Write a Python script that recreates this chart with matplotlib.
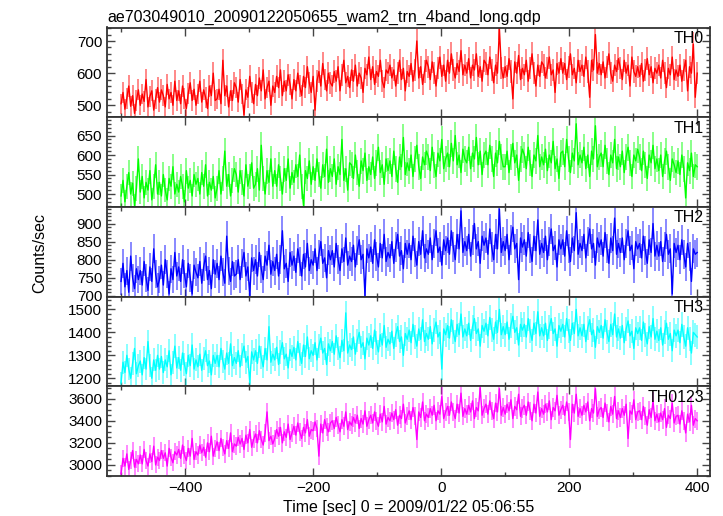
import numpy as np
import matplotlib
matplotlib.use("Agg")
import matplotlib.pyplot as plt
from matplotlib.ticker import MultipleLocator

plt.rcParams['font.family'] = ['Liberation Sans', 'DejaVu Sans']

# time bins (sec, relative to 2009/01/22 05:06:55), 3 s bins
time = np.arange(-500, 401, 3)

th0 = [505, 540, 488, 522, 560, 497, 530, 475, 515, 548,
       500, 535, 512, 580, 495, 528, 545, 485, 520, 555,
       510, 548, 530, 495, 565, 520, 540, 500, 575, 515,
       545, 505, 560, 522, 490, 538, 570, 515, 550, 500,
       535, 575, 510, 548, 525, 490, 560, 530, 600, 515,
       520, 550, 505, 640, 530, 560, 495, 545, 515, 570,
       555, 510, 580, 535, 470, 548, 525, 590, 540, 505,
       565, 530, 585, 545, 610, 520, 555, 575, 500, 560,
       540, 590, 555, 610, 530, 575, 545, 595, 565, 520,
       580, 545, 600, 560, 530, 590, 555, 620, 570, 540,
       590, 485, 575, 605, 560, 630, 580, 545, 600, 570,
       560, 605, 575, 620, 545, 595, 640, 570, 590, 555,
       610, 575, 625, 560, 600, 585, 540, 615, 595, 650,
       580, 620, 565, 605, 590, 640, 575, 555, 610, 600,
       625, 585, 610, 560, 600, 640, 580, 615, 545, 605,
       590, 630, 575, 610, 700, 585, 620, 565, 605, 640,
       620, 580, 635, 600, 560, 615, 650, 590, 625, 575,
       640, 600, 660, 610, 585, 630, 605, 670, 595, 625,
       600, 645, 585, 625, 610, 660, 590, 620, 575, 640,
       630, 595, 650, 610, 570, 625, 600, 740, 615, 585,
       620, 590, 645, 605, 520, 635, 600, 655, 580, 615,
       595, 640, 575, 615, 660, 600, 560, 625, 590, 635,
       625, 585, 615, 650, 595, 610, 540, 630, 600, 645,
       600, 630, 580, 620, 660, 595, 615, 570, 640, 605,
       625, 590, 650, 605, 525, 640, 610, 720, 600, 630,
       595, 635, 585, 620, 660, 600, 575, 625, 605, 645,
       615, 580, 640, 600, 625, 560, 650, 605, 590, 620,
       590, 630, 575, 610, 645, 595, 620, 570, 615, 600,
       625, 585, 640, 600, 555, 615, 595, 650, 580, 610,
       590, 625, 575, 610, 640, 545, 620, 600, 690, 525,
       600]

th1 = [495, 535, 480, 520, 555, 500, 528, 470, 515, 590,
       505, 545, 490, 530, 510, 560, 485, 520, 575, 500,
       530, 495, 550, 510, 485, 540, 520, 570, 500, 525,
       505, 545, 520, 480, 560, 515, 535, 495, 550, 525,
       540, 500, 555, 520, 575, 495, 530, 510, 545, 490,
       515, 560, 500, 540, 610, 520, 550, 495, 535, 565,
       550, 505, 560, 530, 495, 575, 520, 545, 580, 515,
       525, 565, 510, 625, 540, 500, 560, 530, 590, 520,
       560, 520, 575, 540, 500, 565, 535, 590, 515, 555,
       530, 575, 545, 600, 520, 470, 560, 540, 585, 525,
       570, 535, 590, 550, 515, 575, 545, 615, 530, 565,
       545, 590, 525, 570, 550, 640, 535, 565, 510, 580,
       575, 540, 600, 555, 520, 585, 560, 605, 535, 570,
       550, 595, 540, 580, 620, 555, 575, 525, 590, 560,
       585, 545, 610, 565, 530, 595, 570, 645, 550, 580,
       560, 600, 545, 590, 625, 570, 540, 595, 575, 610,
       595, 560, 620, 575, 545, 605, 585, 640, 565, 590,
       605, 570, 630, 585, 650, 575, 600, 555, 615, 590,
       580, 620, 565, 605, 590, 645, 575, 610, 550, 600,
       610, 575, 625, 590, 545, 605, 580, 635, 595, 570,
       570, 610, 555, 595, 630, 580, 600, 535, 590, 615,
       600, 565, 620, 580, 545, 600, 585, 650, 570, 595,
       575, 615, 560, 600, 580, 635, 565, 590, 540, 605,
       610, 570, 640, 590, 555, 605, 585, 680, 575, 600,
       580, 620, 565, 600, 545, 610, 590, 675, 570, 595,
       605, 570, 625, 585, 550, 600, 580, 640, 565, 595,
       570, 610, 555, 595, 620, 580, 545, 600, 585, 615,
       595, 560, 610, 575, 540, 600, 580, 625, 565, 590,
       560, 600, 545, 585, 610, 570, 535, 590, 575, 555,
       585, 550, 600, 565, 490, 580, 560, 605, 545, 575,
       570]

th2 = [740, 790, 725, 770, 710, 810, 750, 720, 775, 745,
       770, 730, 795, 750, 715, 780, 740, 830, 760, 725,
       745, 785, 730, 800, 760, 705, 775, 745, 820, 755,
       780, 740, 800, 760, 725, 790, 750, 705, 785, 765,
       750, 795, 735, 780, 810, 745, 770, 720, 800, 760,
       790, 745, 810, 765, 735, 865, 770, 740, 795, 755,
       760, 800, 745, 790, 820, 755, 780, 700, 805, 770,
       800, 755, 820, 775, 745, 810, 785, 840, 760, 795,
       770, 815, 755, 800, 880, 775, 790, 740, 820, 785,
       810, 765, 830, 795, 755, 815, 780, 845, 770, 800,
       785, 830, 770, 815, 850, 790, 805, 750, 825, 800,
       825, 780, 845, 800, 770, 830, 795, 860, 785, 810,
       795, 840, 780, 825, 855, 800, 815, 700, 830, 805,
       835, 790, 855, 810, 780, 845, 805, 870, 795, 820,
       805, 850, 790, 835, 870, 810, 825, 775, 845, 815,
       845, 800, 865, 820, 785, 850, 815, 880, 805, 830,
       815, 860, 800, 845, 880, 820, 835, 785, 855, 825,
       860, 815, 880, 835, 800, 870, 830, 935, 820, 850,
       825, 870, 810, 855, 900, 830, 850, 790, 865, 840,
       860, 815, 885, 835, 800, 870, 830, 940, 820, 850,
       825, 870, 800, 855, 890, 830, 845, 745, 860, 835,
       855, 810, 875, 830, 795, 865, 825, 910, 815, 845,
       820, 865, 800, 850, 885, 825, 840, 780, 855, 830,
       855, 810, 880, 830, 795, 860, 825, 930, 815, 845,
       825, 870, 805, 850, 885, 830, 845, 785, 860, 835,
       855, 810, 875, 830, 790, 860, 825, 915, 815, 845,
       820, 860, 800, 845, 880, 825, 840, 775, 850, 830,
       845, 805, 865, 825, 790, 855, 820, 900, 810, 840,
       810, 850, 795, 835, 870, 815, 830, 705, 845, 820,
       840, 800, 855, 815, 780, 845, 810, 740, 830, 815,
       820]

th3 = [1180, 1270, 1225, 1300, 1240, 1200, 1265, 1330, 1220, 1255,
       1275, 1215, 1290, 1240, 1360, 1255, 1200, 1280, 1235, 1300,
       1240, 1295, 1225, 1280, 1250, 1320, 1215, 1270, 1340, 1245,
       1290, 1235, 1310, 1260, 1220, 1300, 1255, 1345, 1240, 1280,
       1250, 1305, 1235, 1285, 1320, 1255, 1275, 1215, 1300, 1265,
       1300, 1250, 1330, 1275, 1240, 1310, 1265, 1350, 1255, 1290,
       1265, 1320, 1250, 1305, 1340, 1270, 1295, 1180, 1315, 1280,
       1320, 1265, 1340, 1290, 1250, 1330, 1280, 1425, 1270, 1305,
       1280, 1335, 1260, 1315, 1355, 1285, 1305, 1245, 1325, 1295,
       1335, 1280, 1360, 1305, 1265, 1345, 1295, 1380, 1285, 1320,
       1300, 1355, 1280, 1340, 1375, 1310, 1330, 1260, 1350, 1320,
       1360, 1305, 1385, 1330, 1290, 1365, 1320, 1485, 1310, 1345,
       1325, 1380, 1305, 1365, 1400, 1335, 1355, 1285, 1375, 1345,
       1385, 1330, 1410, 1355, 1315, 1390, 1345, 1430, 1335, 1370,
       1350, 1405, 1330, 1390, 1425, 1360, 1380, 1300, 1395, 1370,
       1410, 1355, 1435, 1380, 1340, 1415, 1370, 1455, 1360, 1395,
       1370, 1425, 1350, 1410, 1445, 1380, 1400, 1240, 1415, 1390,
       1430, 1375, 1455, 1400, 1360, 1435, 1390, 1480, 1380, 1415,
       1385, 1440, 1365, 1425, 1460, 1395, 1415, 1340, 1430, 1405,
       1440, 1385, 1465, 1410, 1370, 1445, 1400, 1500, 1390, 1425,
       1390, 1445, 1370, 1430, 1470, 1400, 1420, 1345, 1435, 1410,
       1435, 1380, 1460, 1405, 1365, 1440, 1395, 1490, 1385, 1420,
       1385, 1440, 1365, 1425, 1460, 1395, 1415, 1340, 1430, 1405,
       1435, 1380, 1460, 1405, 1365, 1440, 1395, 1500, 1385, 1420,
       1385, 1435, 1360, 1420, 1455, 1390, 1410, 1335, 1425, 1400,
       1430, 1375, 1455, 1400, 1360, 1435, 1390, 1480, 1380, 1415,
       1375, 1430, 1355, 1415, 1450, 1385, 1405, 1330, 1420, 1395,
       1420, 1365, 1445, 1390, 1350, 1425, 1380, 1460, 1370, 1405,
       1365, 1420, 1345, 1400, 1440, 1370, 1395, 1320, 1410, 1385,
       1410, 1355, 1435, 1380, 1340, 1420, 1370, 1310, 1400, 1390,
       1380]

th0123 = [2920, 3060, 2990, 3100, 2960, 3040, 3130, 2980, 3050, 3010,
          3090, 3010, 3140, 3040, 2990, 3100, 3030, 3170, 3000, 3070,
          3040, 3130, 3060, 3110, 2990, 3150, 3070, 3020, 3120, 3090,
          3140, 3060, 3180, 3090, 3040, 3150, 3080, 3240, 3050, 3120,
          3090, 3180, 3110, 3160, 3070, 3200, 3120, 3260, 3080, 3150,
          3210, 3130, 3240, 3160, 3100, 3220, 3150, 3290, 3120, 3190,
          3170, 3250, 3190, 3240, 3140, 3270, 3200, 3320, 3160, 3230,
          3280, 3200, 3310, 3230, 3180, 3290, 3480, 3220, 3260, 3190,
          3240, 3320, 3260, 3340, 3200, 3300, 3250, 3370, 3230, 3290,
          3350, 3270, 3380, 3300, 3240, 3340, 3290, 3410, 3260, 3320,
          3310, 3390, 3330, 3080, 3370, 3290, 3410, 3340, 3300, 3380,
          3400, 3330, 3430, 3360, 3300, 3410, 3350, 3480, 3320, 3390,
          3360, 3430, 3380, 3450, 3330, 3420, 3370, 3490, 3350, 3410,
          3450, 3380, 3480, 3400, 3350, 3460, 3390, 3530, 3370, 3430,
          3400, 3470, 3410, 3500, 3360, 3450, 3420, 3550, 3380, 3440,
          3490, 3410, 3520, 3440, 3230, 3480, 3430, 3570, 3400, 3460,
          3430, 3510, 3450, 3540, 3400, 3490, 3460, 3620, 3420, 3480,
          3530, 3450, 3570, 3480, 3420, 3550, 3470, 3650, 3440, 3510,
          3460, 3540, 3480, 3580, 3420, 3520, 3490, 3700, 3450, 3510,
          3550, 3460, 3580, 3490, 3420, 3560, 3480, 3690, 3450, 3520,
          3460, 3550, 3490, 3590, 3420, 3530, 3500, 3640, 3440, 3510,
          3540, 3450, 3570, 3490, 3400, 3550, 3470, 3660, 3440, 3510,
          3460, 3550, 3480, 3580, 3410, 3520, 3490, 3630, 3450, 3500,
          3540, 3450, 3570, 3480, 3230, 3550, 3470, 3640, 3440, 3510,
          3450, 3540, 3480, 3570, 3400, 3510, 3470, 3690, 3440, 3500,
          3520, 3430, 3560, 3470, 3390, 3530, 3460, 3620, 3420, 3490,
          3430, 3510, 3450, 3550, 3240, 3490, 3460, 3590, 3410, 3480,
          3490, 3410, 3530, 3440, 3360, 3500, 3430, 3580, 3400, 3460,
          3390, 3470, 3410, 3510, 3340, 3450, 3420, 3560, 3380, 3440,
          3450, 3370, 3490, 3400, 3290, 3460, 3390, 3540, 3360, 3420,
          3400]

series = [th0, th1, th2, th3, th0123]
names = ["TH0", "TH1", "TH2", "TH3", "TH0123"]
colors = ["#ff0000", "#00ff00", "#0000ff", "#00ffff", "#ff00ff"]
ylims = [(463, 742), (467, 697), (698, 946), (1165, 1556), (2900, 3712)]
majors = [100, 50, 50, 100, 200]
minors = [20, 10, 10, 20, 50]

fig = plt.figure(figsize=(7.23, 5.16), dpi=100)
gs = fig.add_gridspec(5, 1, left=107/723, right=710/723,
                      top=1 - 27.5/516, bottom=1 - 476/516, hspace=0)

axes = []
for i in range(5):
    ax = fig.add_subplot(gs[i, 0], sharex=axes[0] if axes else None)
    axes.append(ax)
    v = np.asarray(series[i], dtype=float)
    e = 1.4 * np.sqrt(v)
    ax.vlines(time, v - e, v + e, color=colors[i], alpha=0.5, lw=1.3)
    ax.plot(time, v, color=colors[i], lw=1.0)
    ax.set_ylim(*ylims[i])
    ax.set_xlim(-522, 420)
    ax.yaxis.set_major_locator(MultipleLocator(majors[i]))
    ax.yaxis.set_minor_locator(MultipleLocator(minors[i]))
    ax.xaxis.set_major_locator(MultipleLocator(200))
    ax.xaxis.set_minor_locator(MultipleLocator(100))
    ax.tick_params(which='both', direction='in', top=True, right=True,
                   labelsize=11, color='#444444')
    ax.tick_params(which='major', length=6, width=1.0)
    ax.tick_params(which='minor', length=3, width=1.0)
    for sp in ax.spines.values():
        sp.set_linewidth(1.3)
        sp.set_color('#333333')
    ax.text(0.99, 0.96, names[i], transform=ax.transAxes, ha='right',
            va='top', fontsize=11.5)
    if i < 4:
        ax.tick_params(labelbottom=False)

axes[-1].set_xlabel("Time [sec] 0 = 2009/01/22 05:06:55", fontsize=11.5, labelpad=4)
fig.text(40/723, 0.51, "Counts/sec", rotation=90, ha='center', va='center',
         fontsize=11.5)
fig.text(107/723, 1 - 22/516, "ae703049010_20090122050655_wam2_trn_4band_long.qdp",
         ha='left', va='baseline', fontsize=11.5)

fig.savefig("out.png", dpi=100)
